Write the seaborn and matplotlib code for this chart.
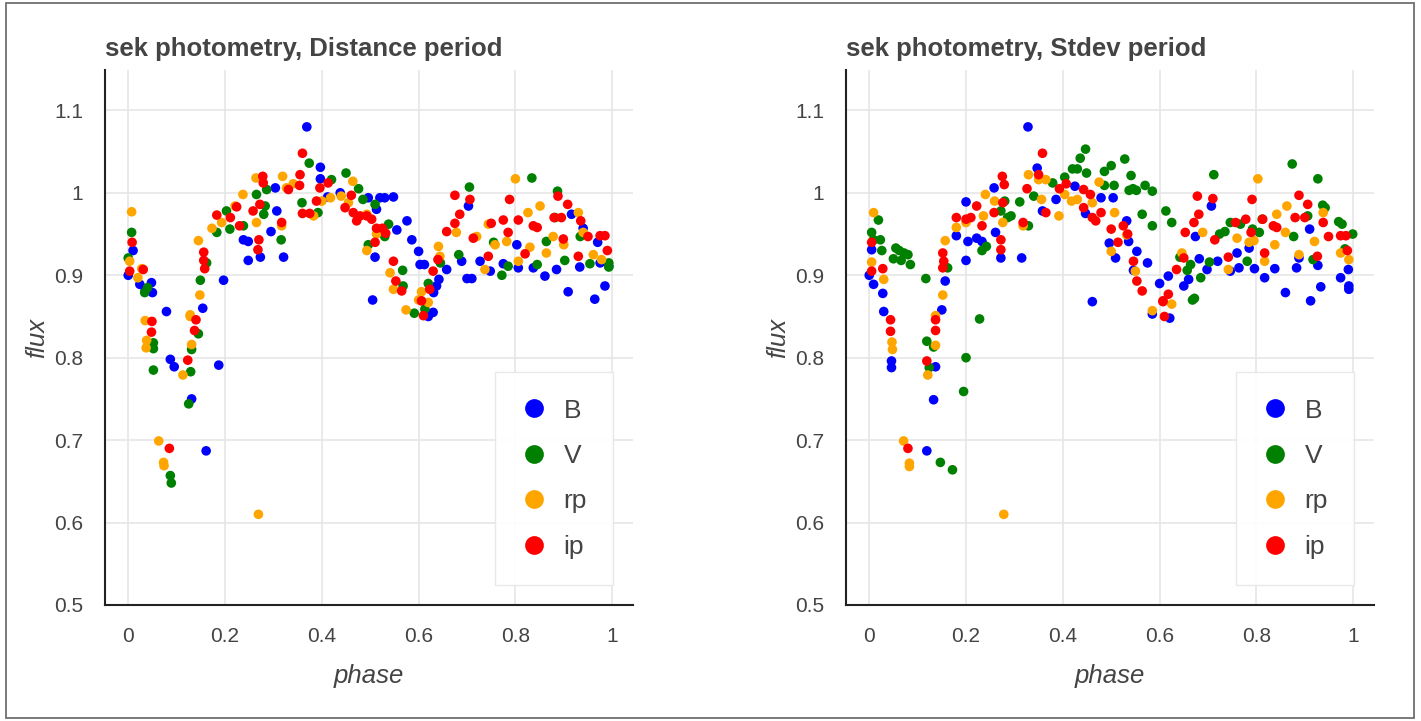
import pandas as pd
import seaborn as sns
import matplotlib.pyplot as plt
from matplotlib.lines import Line2D
from matplotlib.patches import Rectangle
from matplotlib.ticker import MultipleLocator, FixedLocator, FuncFormatter

# bands and colours (bokeh named colours)
bands = ["B", "V", "rp", "ip"]
band_colors = ["blue", "green", "orange", "red"]

# ---- left panel: Distance period ----
dist_B_phase = [0.0, 0.01, 0.024, 0.035, 0.048, 0.05, 0.079, 0.087, 0.095, 0.131, 0.154, 0.161, 0.187, 0.197,
                0.238, 0.248, 0.248, 0.273, 0.295, 0.307, 0.321, 0.304, 0.369, 0.397, 0.397, 0.412, 0.438, 0.496,
                0.52, 0.53, 0.548, 0.513, 0.576, 0.555, 0.586, 0.6, 0.603, 0.612, 0.51, 0.505, 0.631, 0.637, 0.642,
                0.658, 0.62, 0.63, 0.689, 0.703, 0.70, 0.71, 0.727, 0.748, 0.775, 0.803, 0.806, 0.837, 0.861, 0.885,
                0.909, 0.916, 0.933, 0.94, 0.964, 0.97, 0.975, 0.985, 0.993]
dist_B_flux = [0.900, 0.930, 0.889, 0.882, 0.891, 0.879, 0.856, 0.798, 0.789, 0.750, 0.860, 0.687, 0.791, 0.894,
               0.943, 0.941, 0.918, 0.922, 0.953, 0.978, 0.922, 1.006, 1.080, 1.031, 1.017, 0.995, 1.0, 0.994,
               0.994, 0.994, 0.995, 0.98, 0.966, 0.955, 0.943, 0.929, 0.913, 0.913, 0.922, 0.870, 0.879, 0.887, 0.895,
               0.907, 0.85, 0.855, 0.917, 0.984, 0.896, 0.896, 0.917, 0.905, 0.914, 0.937, 0.909, 0.909, 0.899, 0.907,
               0.880, 0.974, 0.91, 0.957, 0.871, 0.94, 0.915, 0.887, 0.911]

dist_V_phase = [0.0, 0.007, 0.034, 0.04, 0.052, 0.052, 0.052, 0.087, 0.089, 0.125, 0.129, 0.131, 0.145, 0.149,
                0.162, 0.183, 0.203, 0.21, 0.238, 0.265, 0.28, 0.283, 0.286, 0.316, 0.359, 0.374, 0.392, 0.42,
                0.45, 0.476, 0.485, 0.51, 0.538, 0.53, 0.496, 0.567, 0.568, 0.591, 0.613, 0.62, 0.645, 0.683,
                0.705, 0.755, 0.772, 0.785, 0.834, 0.845, 0.864, 0.887, 0.882, 0.902, 0.934, 0.954, 0.993, 0.993]
dist_V_flux = [0.921, 0.952, 0.879, 0.885, 0.818, 0.811, 0.785, 0.657, 0.648, 0.744, 0.783, 0.81, 0.829, 0.894,
               0.915, 0.952, 0.978, 0.956, 0.96, 0.998, 0.974, 0.984, 1.004, 0.943, 0.988, 1.036, 0.976, 1.016,
               1.024, 1.005, 0.992, 0.986, 0.962, 0.947, 0.937, 0.906, 0.887, 0.854, 0.859, 0.89, 0.915, 0.925,
               1.007, 0.94, 0.9, 0.911, 1.018, 0.913, 0.941, 1.002, 0.97, 0.918, 0.947, 0.914, 0.91, 0.915]

dist_rp_phase = [0.003, 0.007, 0.02, 0.028, 0.035, 0.038, 0.037, 0.063, 0.073, 0.074, 0.113, 0.128, 0.131, 0.128,
                 0.148, 0.145, 0.269, 0.173, 0.193, 0.221, 0.237, 0.264, 0.265, 0.317, 0.319, 0.327, 0.341, 0.383,
                 0.40, 0.418, 0.44, 0.464, 0.455, 0.493, 0.493, 0.513, 0.541, 0.548, 0.574, 0.60, 0.606, 0.62,
                 0.641, 0.644, 0.678, 0.72, 0.737, 0.744, 0.758, 0.782, 0.80, 0.806, 0.826, 0.851, 0.83, 0.864,
                 0.878, 0.90, 0.93, 0.94, 0.961, 0.978]
dist_rp_flux = [0.917, 0.977, 0.897, 0.908, 0.845, 0.821, 0.812, 0.699, 0.673, 0.669, 0.779, 0.852, 0.816, 0.85,
                0.876, 0.942, 0.61, 0.957, 0.964, 0.984, 0.998, 1.018, 0.964, 0.96, 1.02, 1.006, 1.011, 0.972,
                0.99, 0.994, 0.996, 1.014, 0.988, 0.974, 0.93, 0.95, 0.903, 0.883, 0.858, 0.87, 0.88, 0.867,
                0.935, 0.923, 0.952, 0.947, 0.907, 0.962, 0.937, 0.941, 1.017, 0.917, 0.976, 0.984, 0.934, 0.927,
                0.947, 0.937, 0.976, 0.952, 0.925, 0.919]

dist_ip_phase = [0.003, 0.008, 0.031, 0.049, 0.048, 0.085, 0.123, 0.14, 0.137, 0.156, 0.156, 0.158, 0.183, 0.211,
                 0.224, 0.23, 0.258, 0.272, 0.278, 0.279, 0.27, 0.268, 0.317, 0.331, 0.355, 0.36, 0.354, 0.36,
                 0.375, 0.389, 0.413, 0.396, 0.448, 0.461, 0.465, 0.479, 0.493, 0.472, 0.503, 0.513, 0.525, 0.532,
                 0.51, 0.548, 0.553, 0.565, 0.606, 0.623, 0.61, 0.63, 0.64, 0.658, 0.675, 0.685, 0.675, 0.706,
                 0.713, 0.744, 0.75, 0.775, 0.788, 0.785, 0.806, 0.82, 0.837, 0.845, 0.88, 0.895, 0.888, 0.908,
                 0.899, 0.93, 0.935, 0.95, 0.975, 0.985, 0.99]
dist_ip_flux = [0.905, 0.94, 0.907, 0.844, 0.831, 0.69, 0.797, 0.846, 0.833, 0.928, 0.918, 0.908, 0.973, 0.97,
                0.983, 0.96, 0.978, 0.986, 1.02, 1.012, 0.943, 0.931, 0.964, 1.004, 1.022, 1.048, 1.009, 0.975,
                0.975, 0.99, 1.012, 1.006, 0.982, 0.997, 0.976, 0.972, 0.972, 0.966, 0.968, 0.957, 0.957, 0.951,
                0.94, 0.917, 0.893, 0.881, 0.869, 0.883, 0.851, 0.905, 0.919, 0.953, 0.963, 0.974, 0.997, 0.992,
                0.945, 0.923, 0.963, 0.967, 0.992, 0.952, 0.967, 0.926, 0.96, 0.958, 0.97, 0.97, 0.996, 0.986,
                0.944, 0.923, 0.966, 0.947, 0.948, 0.948, 0.93]

# ---- right panel: Stdev period ----
std_B_phase = [0.0, 0.005, 0.009, 0.028, 0.03, 0.046, 0.046, 0.119, 0.137, 0.133, 0.15, 0.157, 0.18, 0.2, 0.2,
               0.204, 0.222, 0.233, 0.258, 0.261, 0.272, 0.315, 0.328, 0.347, 0.358, 0.386, 0.425, 0.447, 0.479,
               0.504, 0.461, 0.496, 0.509, 0.532, 0.536, 0.553, 0.546, 0.575, 0.585, 0.6, 0.618, 0.621, 0.65,
               0.66, 0.674, 0.682, 0.698, 0.707, 0.72, 0.746, 0.76, 0.764, 0.785, 0.796, 0.817, 0.838, 0.86,
               0.883, 0.888, 0.91, 0.912, 0.927, 0.933, 0.974, 0.99, 0.991, 0.991]
std_B_flux = [0.90, 0.931, 0.889, 0.878, 0.856, 0.796, 0.788, 0.687, 0.789, 0.749, 0.858, 0.893, 0.948, 0.918, 0.989,
              0.941, 0.945, 0.941, 1.006, 0.952, 0.921, 0.921, 1.08, 1.03, 0.978, 0.992, 1.008, 0.975, 0.994,
              0.994, 0.868, 0.939, 0.921, 0.966, 0.941, 0.929, 0.906, 0.915, 0.853, 0.89, 0.899, 0.848, 0.887,
              0.895, 0.947, 0.92, 0.907, 0.984, 0.917, 0.905, 0.927, 0.909, 0.933, 0.908, 0.897, 0.908, 0.879,
              0.909, 0.921, 0.956, 0.869, 0.912, 0.886, 0.897, 0.907, 0.887, 0.883]

std_V_phase = [0.005, 0.009, 0.019, 0.023, 0.026, 0.055, 0.062, 0.072, 0.08, 0.05, 0.066, 0.085, 0.117, 0.119,
               0.133, 0.124, 0.228, 0.2, 0.195, 0.147, 0.172, 0.162, 0.233, 0.242, 0.28, 0.286, 0.293, 0.272,
               0.311, 0.329, 0.34, 0.379, 0.404, 0.42, 0.43, 0.436, 0.447, 0.449, 0.486, 0.5, 0.486, 0.506,
               0.528, 0.541, 0.537, 0.545, 0.552, 0.57, 0.585, 0.564, 0.585, 0.613, 0.625, 0.642, 0.657, 0.664,
               0.672, 0.668, 0.685, 0.703, 0.712, 0.724, 0.735, 0.746, 0.767, 0.781, 0.792, 0.812, 0.806, 0.874,
               0.877, 0.906, 0.927, 0.917, 0.937, 0.942, 0.97, 0.977, 0.983, 0.999]
std_V_flux = [0.952, 0.943, 0.967, 0.943, 0.93, 0.933, 0.93, 0.927, 0.925, 0.92, 0.918, 0.913, 0.896, 0.82,
              0.813, 0.788, 0.847, 0.8, 0.759, 0.673, 0.664, 0.909, 0.93, 0.935, 0.99, 0.97, 0.972, 0.978,
              0.989, 0.96, 0.996, 1.012, 1.019, 1.029, 1.029, 1.042, 1.053, 1.024, 1.026, 1.033, 1.009, 1.009,
              1.041, 1.021, 1.003, 1.005, 1.003, 1.009, 1.002, 0.974, 0.96, 0.978, 0.964, 0.922, 0.906, 0.913,
              0.872, 0.87, 0.897, 0.916, 1.022, 0.95, 0.953, 0.964, 0.962, 0.917, 0.956, 0.968, 0.952, 1.035,
              0.947, 0.972, 1.017, 0.919, 0.985, 0.982, 0.965, 0.962, 0.932, 0.95]

std_rp_phase = [0.005, 0.009, 0.03, 0.047, 0.048, 0.071, 0.083, 0.083, 0.121, 0.137, 0.137, 0.278, 0.585, 0.625,
                0.152, 0.157, 0.18, 0.2, 0.24, 0.236, 0.259, 0.276, 0.318, 0.329, 0.35, 0.365, 0.356, 0.392,
                0.404, 0.418, 0.43, 0.461, 0.475, 0.507, 0.5, 0.532, 0.55, 0.646, 0.689, 0.742, 0.76, 0.785,
                0.795, 0.803, 0.817, 0.838, 0.842, 0.863, 0.86, 0.888, 0.92, 0.938, 0.974, 0.991]
std_rp_flux = [0.916, 0.976, 0.895, 0.819, 0.81, 0.699, 0.672, 0.668, 0.779, 0.815, 0.851, 0.61, 0.857, 0.865,
               0.876, 0.942, 0.958, 0.964, 0.998, 0.972, 0.99, 0.964, 0.96, 1.022, 1.016, 1.016, 0.992, 0.972,
               0.998, 0.99, 0.992, 0.988, 1.013, 0.976, 0.929, 0.949, 0.905, 0.927, 0.952, 0.907, 0.945, 0.94,
               0.942, 1.017, 0.917, 0.937, 0.974, 0.984, 0.952, 0.925, 0.941, 0.976, 0.927, 0.919]

std_ip_phase = [0.005, 0.005, 0.028, 0.044, 0.044, 0.08, 0.119, 0.137, 0.137, 0.152, 0.154, 0.152, 0.18, 0.2,
                0.21, 0.222, 0.233, 0.258, 0.275, 0.279, 0.276, 0.272, 0.272, 0.318, 0.326, 0.358, 0.35, 0.365,
                0.393, 0.407, 0.443, 0.443, 0.457, 0.461, 0.468, 0.479, 0.5, 0.514, 0.525, 0.534, 0.546, 0.553,
                0.564, 0.607, 0.618, 0.607, 0.61, 0.635, 0.65, 0.653, 0.671, 0.681, 0.678, 0.71, 0.714, 0.742,
                0.757, 0.778, 0.791, 0.789, 0.813, 0.817, 0.835, 0.842, 0.88, 0.9, 0.888, 0.906, 0.926, 0.938,
                0.949, 0.974, 0.985, 0.988]
std_ip_flux = [0.94, 0.905, 0.908, 0.846, 0.832, 0.69, 0.796, 0.846, 0.833, 0.927, 0.917, 0.909, 0.97, 0.968,
               0.97, 0.984, 0.96, 0.976, 1.02, 1.01, 0.988, 0.943, 0.931, 0.964, 1.005, 1.048, 1.022, 0.976,
               1.005, 1.011, 0.982, 1.004, 0.998, 0.97, 0.966, 0.976, 0.956, 0.94, 0.96, 0.95, 0.917, 0.893,
               0.881, 0.869, 0.877, 0.868, 0.85, 0.907, 0.921, 0.952, 0.964, 0.974, 0.996, 0.993, 0.943, 0.922,
               0.964, 0.968, 0.992, 0.952, 0.968, 0.927, 0.96, 0.958, 0.97, 0.97, 0.997, 0.986, 0.923, 0.964,
               0.947, 0.948, 0.948, 0.93]

x_ticks = [0, 0.2, 0.4, 0.6, 0.8, 1]
y_ticks = [0.5, 0.6, 0.7, 0.8, 0.9, 1.0, 1.1]

panels = [
    ("sek photometry, Distance period",
     [(dist_B_phase, dist_B_flux), (dist_V_phase, dist_V_flux),
      (dist_rp_phase, dist_rp_flux), (dist_ip_phase, dist_ip_flux)]),
    ("sek photometry, Stdev period",
     [(std_B_phase, std_B_flux), (std_V_phase, std_V_flux),
      (std_rp_phase, std_rp_flux), (std_ip_phase, std_ip_flux)]),
]

sns.set_style("white")
plt.rcParams["font.family"] = ["Liberation Sans", "DejaVu Sans"]
text_color = "#444444"

fig = plt.figure(figsize=(14.21, 7.21), dpi=100)
# thin frame around the whole picture
fig.patches.append(Rectangle((6 / 1421, 3 / 721), 1408 / 1421, 715 / 721, transform=fig.transFigure,
                             fill=False, edgecolor="#6f6f6f", linewidth=1.3))

palette = dict(zip(bands, band_colors))
ax_lefts = [105 / 1421, 846 / 1421]

for (title, series), left in zip(panels, ax_lefts):
    ax = fig.add_axes([left, 116 / 721, 528 / 1421, 535 / 721])
    frames = []
    for band, (ph, fl) in zip(bands, series):
        frames.append(pd.DataFrame({"phase": ph, "flux": fl, "band": band}))
    df = pd.concat(frames, ignore_index=True)

    sns.scatterplot(data=df, x="phase", y="flux", hue="band", palette=palette,
                    s=48, linewidth=0, alpha=1.0, legend=False, ax=ax, zorder=3)

    ax.set_xlim(-0.048, 1.043)
    ax.set_ylim(0.5, 1.149)
    ax.xaxis.set_major_locator(FixedLocator(x_ticks))
    ax.yaxis.set_major_locator(FixedLocator(y_ticks))
    ax.xaxis.set_minor_locator(MultipleLocator(0.04))
    ax.yaxis.set_minor_locator(MultipleLocator(0.02))
    fmt = FuncFormatter(lambda v, p: f"{v:g}")
    ax.xaxis.set_major_formatter(fmt)
    ax.yaxis.set_major_formatter(fmt)

    ax.grid(True, which="major", color="#e6e6e6", linewidth=1.2, zorder=0)
    ax.set_axisbelow(True)
    for side in ["top", "right"]:
        ax.spines[side].set_visible(False)
    for side in ["left", "bottom"]:
        ax.spines[side].set_color("#222222")
        ax.spines[side].set_linewidth(1.5)

    ax.tick_params(which="major", direction="out", length=7.5, width=1.5, color="#222222",
                   labelsize=15, labelcolor=text_color, pad=8)
    ax.tick_params(which="minor", direction="out", length=4.5, width=1.3, color="#222222")

    ax.set_xlabel("phase", fontsize=18.5, style="italic", color=text_color, labelpad=13)
    ax.set_ylabel("flux", fontsize=18.5, style="italic", color=text_color, labelpad=4)
    ax.set_title(title, loc="left", fontsize=18.5, fontweight="bold", color=text_color, pad=10)

    handles = [Line2D([], [], marker="o", linestyle="", markersize=13.5, markeredgewidth=0, color=c)
               for c in band_colors]
    leg = ax.legend(handles, bands, loc="lower right", fontsize=19, labelcolor=text_color,
                    frameon=True, fancybox=False, framealpha=0.92, edgecolor="#e8e8e8",
                    borderpad=1.0, handlelength=1.0, handletextpad=0.6, labelspacing=0.81,
                    borderaxespad=0.75)
    leg.get_frame().set_linewidth(1.0)

fig.savefig("out.png", dpi=100)
